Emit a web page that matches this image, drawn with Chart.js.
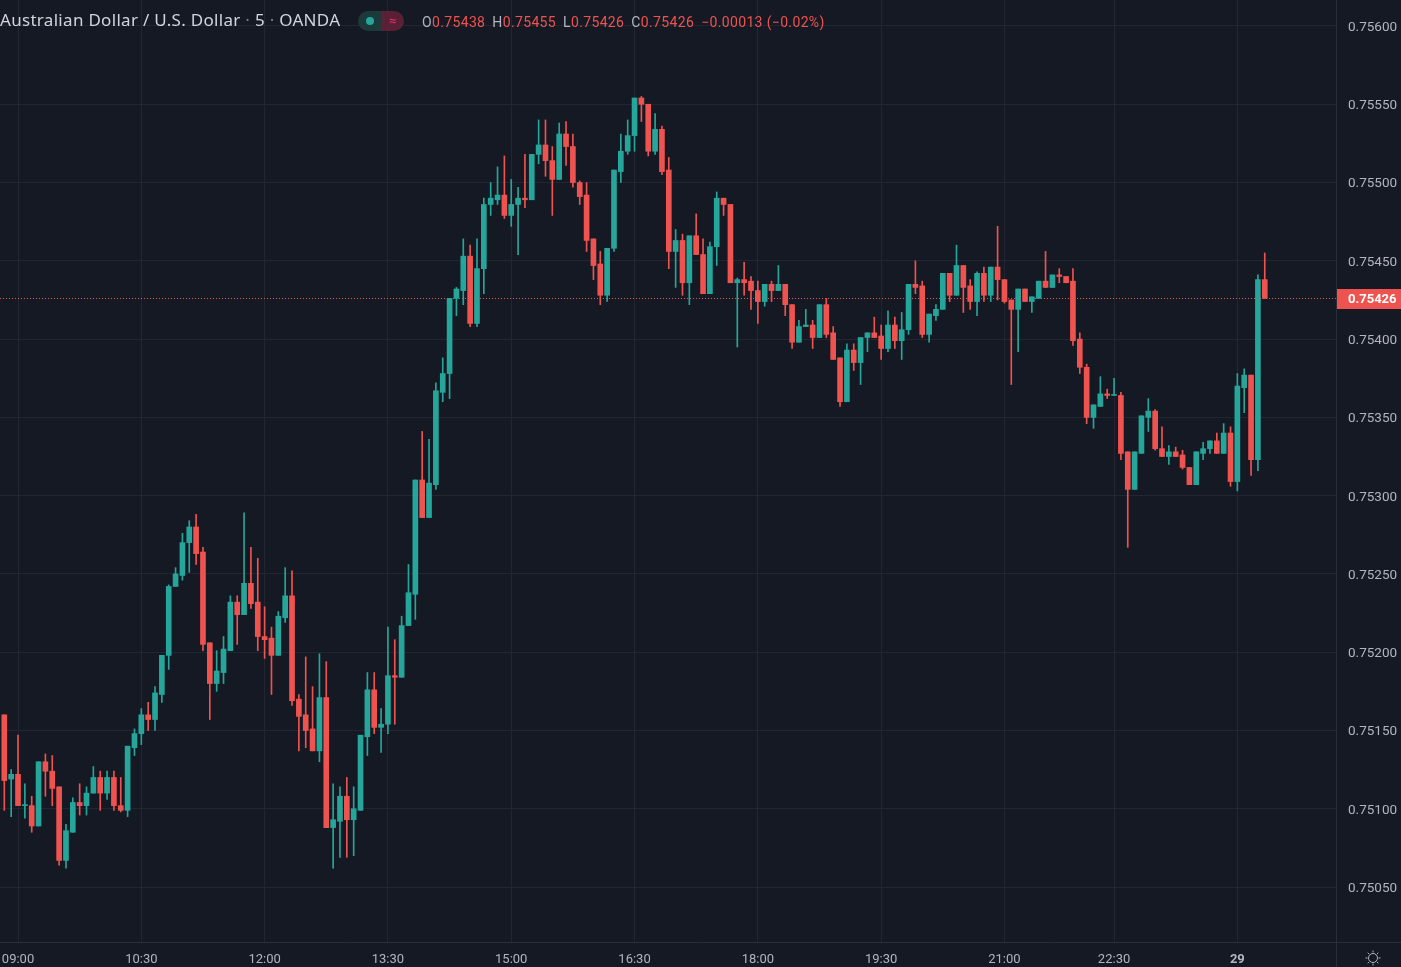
<!DOCTYPE html>
<html>
<head>
<meta charset="utf-8">
<title>AUD/USD 5</title>
<script src="https://cdn.jsdelivr.net/npm/chart.js@4.4.0/dist/chart.umd.min.js"></script>
<style>
  html, body { margin: 0; padding: 0; background: #151924; overflow: hidden; }
  #wrap { position: relative; width: 1401px; height: 967px; }
  #header { position: absolute; left: 0; top: 11px; height: 22px; white-space: nowrap; }
  #title { position: absolute; left: 0; top: -1px; font-family: 'Noto Sans', sans-serif; font-size: 17px; line-height: 20px; letter-spacing: 0.3px; color: #d1d4dc; }
  #title .sep { color: #787b86; }
  #pill { position: absolute; left: 358px; top: 0; width: 46px; height: 20px; border-radius: 10px; overflow: hidden; }
  #pill .l { position: absolute; left: 0; top: 0; width: 23px; height: 20px; background: #1c3a3a; }
  #pill .l i { position: absolute; left: 8px; top: 6px; width: 8px; height: 8px; border-radius: 4px; background: #26a69a; }
  #pill .r { position: absolute; left: 23px; top: 0; width: 23px; height: 20px; background: #5a2036; color: #e0306a; font-family: Roboto, sans-serif; font-size: 13px; line-height: 20px; text-align: center; }
  #ohlc { position: absolute; left: 422px; top: 2px; font-family: Roboto, sans-serif; font-size: 14px; line-height: 18px; letter-spacing: 0.35px; color: #b2b5be; }
  #ohlc b { font-weight: normal; color: #ef5350; margin-right: 7px; }
</style>
</head>
<body>
<div id="wrap">
  <canvas id="candles"></canvas>
  <div id="header">
    <div id="title">Australian Dollar / U.S. Dollar <span class="sep">·</span> 5 <span class="sep">·</span> OANDA</div>
    <div id="pill"><div class="l"><i></i></div><div class="r">≈</div></div>
    <div id="ohlc">O<b>0.75438</b>H<b>0.75455</b>L<b>0.75426</b>C<b>0.75426</b><b>−0.00013 (−0.02%)</b></div>
  </div>
</div>
<script>
// 5 minute candles, AUD/USD (OANDA), one entry per bar from 08:50
const opens = [
  0.75160,0.75119,0.75122,0.75102,0.75102,0.75089,0.75130,0.75124,0.75114,0.75067,
  0.75085,0.75104,0.75102,0.75110,0.75120,0.75110,0.75120,0.75102,0.75099,0.75139,
  0.75148,0.75160,0.75157,0.75173,0.75198,0.75242,0.75249,0.75270,0.75280,0.75264,
  0.75206,0.75180,0.75187,0.75201,0.75232,0.75224,0.75244,0.75232,0.75210,0.75209,
  0.75198,0.75222,0.75236,0.75170,0.75160,0.75151,0.75137,0.75171,0.75088,0.75092,
  0.75108,0.75093,0.75099,0.75146,0.75176,0.75152,0.75154,0.75185,0.75184,0.75217,
  0.75237,0.75310,0.75286,0.75307,0.75366,0.75378,0.75426,0.75431,0.75453,0.75410,
  0.75445,0.75486,0.75489,0.75492,0.75479,0.75486,0.75490,0.75489,0.75518,0.75524,
  0.75514,0.75502,0.75531,0.75523,0.75500,0.75492,0.75464,0.75448,0.75428,0.75458,
  0.75507,0.75520,0.75530,0.75554,0.75550,0.75520,0.75534,0.75508,0.75456,0.75463,
  0.75436,0.75466,0.75454,0.75429,0.75459,0.75490,0.75486,0.75436,0.75438,0.75437,
  0.75431,0.75424,0.75435,0.75431,0.75435,0.75422,0.75398,0.75408,0.75409,0.75401,
  0.75422,0.75404,0.75388,0.75360,0.75393,0.75385,0.75401,0.75404,0.75402,0.75394,
  0.75409,0.75399,0.75406,0.75435,0.75434,0.75403,0.75415,0.75419,0.75442,0.75428,
  0.75447,0.75434,0.75424,0.75442,0.75428,0.75446,0.75438,0.75425,0.75419,0.75432,
  0.75424,0.75426,0.75437,0.75433,0.75441,0.75440,0.75437,0.75400,0.75382,0.75350,
  0.75357,0.75365,0.75364,0.75364,0.75328,0.75304,0.75327,0.75350,0.75354,0.75330,
  0.75325,0.75328,0.75326,0.75318,0.75307,0.75327,0.75330,0.75335,0.75327,0.75340,
  0.75309,0.75369,0.75377,0.75323,0.75438
];
const highs = [
  0.75160,0.75125,0.75147,0.75116,0.75108,0.75130,0.75135,0.75134,0.75114,0.75090,
  0.75107,0.75116,0.75114,0.75127,0.75124,0.75124,0.75124,0.75120,0.75140,0.75151,
  0.75164,0.75168,0.75178,0.75198,0.75243,0.75254,0.75276,0.75284,0.75288,0.75267,
  0.75206,0.75201,0.75210,0.75236,0.75236,0.75289,0.75267,0.75260,0.75229,0.75216,
  0.75226,0.75254,0.75252,0.75173,0.75197,0.75178,0.75199,0.75194,0.75116,0.75114,
  0.75120,0.75114,0.75147,0.75187,0.75187,0.75164,0.75216,0.75208,0.75223,0.75256,
  0.75310,0.75341,0.75336,0.75372,0.75388,0.75426,0.75433,0.75464,0.75460,0.75464,
  0.75490,0.75500,0.75510,0.75517,0.75502,0.75497,0.75518,0.75518,0.75540,0.75540,
  0.75523,0.75538,0.75539,0.75531,0.75501,0.75500,0.75464,0.75456,0.75458,0.75508,
  0.75531,0.75540,0.75554,0.75555,0.75550,0.75544,0.75536,0.75516,0.75470,0.75467,
  0.75466,0.75480,0.75464,0.75462,0.75494,0.75490,0.75486,0.75439,0.75449,0.75440,
  0.75437,0.75435,0.75437,0.75447,0.75435,0.75422,0.75412,0.75419,0.75412,0.75422,
  0.75426,0.75408,0.75388,0.75397,0.75397,0.75401,0.75404,0.75414,0.75409,0.75418,
  0.75414,0.75417,0.75435,0.75450,0.75437,0.75416,0.75422,0.75442,0.75442,0.75460,
  0.75447,0.75438,0.75443,0.75446,0.75446,0.75472,0.75438,0.75425,0.75432,0.75432,
  0.75427,0.75437,0.75456,0.75441,0.75445,0.75440,0.75445,0.75404,0.75384,0.75358,
  0.75376,0.75368,0.75375,0.75366,0.75328,0.75328,0.75351,0.75362,0.75355,0.75344,
  0.75332,0.75331,0.75329,0.75318,0.75328,0.75334,0.75335,0.75340,0.75346,0.75344,
  0.75378,0.75381,0.75377,0.75441,0.75455
];
const lows = [
  0.75099,0.75095,0.75102,0.75094,0.75085,0.75089,0.75108,0.75102,0.75064,0.75062,
  0.75085,0.75096,0.75096,0.75110,0.75099,0.75106,0.75099,0.75098,0.75095,0.75134,
  0.75141,0.75150,0.75150,0.75168,0.75189,0.75242,0.75246,0.75251,0.75256,0.75201,
  0.75157,0.75175,0.75180,0.75201,0.75205,0.75224,0.75228,0.75201,0.75196,0.75173,
  0.75198,0.75219,0.75166,0.75137,0.75139,0.75137,0.75130,0.75088,0.75062,0.75069,
  0.75069,0.75070,0.75099,0.75134,0.75148,0.75136,0.75148,0.75154,0.75184,0.75217,
  0.75221,0.75286,0.75286,0.75304,0.75360,0.75362,0.75415,0.75422,0.75408,0.75408,
  0.75429,0.75479,0.75486,0.75477,0.75472,0.75454,0.75484,0.75489,0.75512,0.75504,
  0.75479,0.75502,0.75511,0.75497,0.75486,0.75456,0.75438,0.75422,0.75424,0.75456,
  0.75500,0.75518,0.75520,0.75539,0.75517,0.75518,0.75505,0.75445,0.75433,0.75428,
  0.75422,0.75454,0.75429,0.75429,0.75447,0.75479,0.75436,0.75395,0.75428,0.75419,
  0.75410,0.75421,0.75424,0.75431,0.75415,0.75394,0.75398,0.75408,0.75394,0.75401,
  0.75401,0.75387,0.75357,0.75360,0.75380,0.75371,0.75392,0.75401,0.75387,0.75392,
  0.75394,0.75387,0.75403,0.75429,0.75401,0.75398,0.75412,0.75419,0.75424,0.75428,
  0.75417,0.75419,0.75415,0.75424,0.75424,0.75425,0.75423,0.75371,0.75392,0.75424,
  0.75417,0.75426,0.75433,0.75433,0.75436,0.75436,0.75396,0.75378,0.75346,0.75343,
  0.75357,0.75362,0.75364,0.75323,0.75267,0.75304,0.75327,0.75341,0.75329,0.75325,
  0.75320,0.75325,0.75317,0.75307,0.75307,0.75323,0.75327,0.75327,0.75327,0.75306,
  0.75303,0.75353,0.75313,0.75316,0.75426
];
const closes = [
  0.75118,0.75122,0.75102,0.75102,0.75089,0.75130,0.75124,0.75113,0.75067,0.75086,
  0.75104,0.75102,0.75110,0.75120,0.75110,0.75120,0.75102,0.75099,0.75140,0.75148,
  0.75160,0.75157,0.75174,0.75198,0.75242,0.75250,0.75270,0.75280,0.75263,0.75205,
  0.75180,0.75188,0.75202,0.75232,0.75224,0.75244,0.75231,0.75210,0.75208,0.75198,
  0.75223,0.75236,0.75169,0.75159,0.75150,0.75137,0.75171,0.75088,0.75093,0.75108,
  0.75093,0.75100,0.75147,0.75176,0.75152,0.75154,0.75185,0.75184,0.75217,0.75238,
  0.75310,0.75286,0.75308,0.75367,0.75378,0.75426,0.75432,0.75453,0.75410,0.75445,
  0.75486,0.75490,0.75492,0.75479,0.75486,0.75490,0.75489,0.75518,0.75524,0.75514,
  0.75502,0.75531,0.75523,0.75500,0.75491,0.75463,0.75447,0.75428,0.75458,0.75508,
  0.75520,0.75530,0.75554,0.75550,0.75520,0.75534,0.75507,0.75456,0.75463,0.75436,
  0.75466,0.75454,0.75429,0.75459,0.75490,0.75486,0.75436,0.75438,0.75436,0.75431,
  0.75424,0.75435,0.75431,0.75435,0.75422,0.75398,0.75408,0.75409,0.75401,0.75422,
  0.75403,0.75387,0.75360,0.75393,0.75385,0.75401,0.75404,0.75401,0.75394,0.75409,
  0.75399,0.75406,0.75435,0.75433,0.75403,0.75416,0.75419,0.75442,0.75428,0.75447,
  0.75433,0.75424,0.75442,0.75428,0.75446,0.75438,0.75424,0.75419,0.75432,0.75424,
  0.75427,0.75437,0.75433,0.75441,0.75440,0.75436,0.75399,0.75382,0.75350,0.75358,
  0.75365,0.75364,0.75364,0.75327,0.75304,0.75328,0.75351,0.75354,0.75330,0.75325,
  0.75328,0.75325,0.75318,0.75307,0.75328,0.75330,0.75335,0.75327,0.75340,0.75309,
  0.75370,0.75377,0.75323,0.75438,0.75426
];

// time axis: bar index -> label (a couple of bars are missing around the daily rollover)
const timeTickIndex = [2, 20, 38, 56, 74, 92, 110, 128, 146, 162, 180];
const timeTickLabels = ['09:00', '10:30', '12:00', '13:30', '15:00', '16:30', '18:00', '19:30', '21:00', '22:30', '29'];
const priceTicks = [0.7505, 0.7510, 0.7515, 0.7520, 0.7525, 0.7530, 0.7535, 0.7540, 0.7545, 0.7550, 0.7555, 0.7560];

const UP = '#26a69a';
const DOWN = '#ef5350';
const TEXT = '#b2b5be';
const GRID = '#222632';
const LINE = '#2a2e39';
const FONT = "'Trebuchet MS', Roboto, sans-serif";

const barIdx = opens.map((_, i) => i);
const candleColor = ctx => (closes[ctx.dataIndex] >= opens[ctx.dataIndex] ? UP : DOWN);

// dotted last-price line behind the candles, price tag + frame on top
const lastPricePlugin = {
  id: 'lastPrice',
  beforeDatasetsDraw(chart) {
    const { ctx, chartArea, scales } = chart;
    const py = Math.round(scales.y.getPixelForValue(closes[closes.length - 1])) + 0.5;
    ctx.save();
    ctx.strokeStyle = DOWN;
    ctx.lineWidth = 1;
    ctx.setLineDash([1, 2]);
    ctx.beginPath();
    ctx.moveTo(chartArea.left, py);
    ctx.lineTo(chartArea.right, py);
    ctx.stroke();
    ctx.restore();
  },
  afterDraw(chart) {
    const { ctx, chartArea, scales, width, height } = chart;
    const last = closes[closes.length - 1];
    const py = Math.round(scales.y.getPixelForValue(last));

    ctx.save();
    // pane separators
    ctx.strokeStyle = LINE;
    ctx.lineWidth = 1;
    ctx.beginPath();
    ctx.moveTo(chartArea.right + 0.5, 0);
    ctx.lineTo(chartArea.right + 0.5, height);
    ctx.moveTo(0, chartArea.bottom + 0.5);
    ctx.lineTo(width, chartArea.bottom + 0.5);
    ctx.stroke();

    // price tag
    ctx.fillStyle = DOWN;
    ctx.fillRect(chartArea.right + 1, py - 9, width - chartArea.right - 1, 20);
    ctx.fillStyle = '#ffffff';
    ctx.font = 'bold 13px ' + FONT;
    ctx.textBaseline = 'middle';
    ctx.textAlign = 'left';
    ctx.fillText(last.toFixed(5), chartArea.right + 12, py + 2);

    // settings icon in the corner
    const cx = 1373, cy = 958;
    ctx.strokeStyle = TEXT;
    ctx.beginPath();
    ctx.arc(cx, cy, 4.5, 0, Math.PI * 2);
    ctx.stroke();
    for (let k = 0; k < 8; k++) {
      const a = k * Math.PI / 4;
      ctx.beginPath();
      ctx.moveTo(cx + Math.cos(a) * 5.5, cy + Math.sin(a) * 5.5);
      ctx.lineTo(cx + Math.cos(a) * 7.5, cy + Math.sin(a) * 7.5);
      ctx.stroke();
    }
    ctx.restore();
  }
};

new Chart(document.getElementById('candles'), {
  type: 'bar',
  data: {
    datasets: [
      {
        label: 'wick',
        data: barIdx.map(i => ({ x: i, y: [lows[i], highs[i]] })),
        backgroundColor: candleColor,
        barThickness: 1,
        grouped: false,
        order: 2
      },
      {
        label: 'body',
        data: barIdx.map(i => ({ x: i, y: [opens[i], closes[i]] })),
        backgroundColor: candleColor,
        barThickness: 5,
        minBarLength: 1,
        grouped: false,
        order: 1
      }
    ]
  },
  options: {
    responsive: true,
    maintainAspectRatio: false,
    animation: false,
    layout: { padding: 0 },
    plugins: {
      legend: { display: false },
      tooltip: { enabled: false }
    },
    scales: {
      x: {
        type: 'linear',
        min: -0.63,
        max: 194.4,
        offset: false,
        afterBuildTicks: s => { s.ticks = timeTickIndex.map(v => ({ value: v })); },
        afterFit: s => { s.height = 25; s.paddingLeft = 0; s.paddingRight = 0; },
        ticks: {
          autoSkip: false,
          maxRotation: 0,
          padding: 10,
          color: TEXT,
          font: c => ({ family: FONT, size: 13, weight: (c.tick && c.tick.label === '29') ? 'bold' : 'normal' }),
          callback: v => timeTickLabels[timeTickIndex.indexOf(v)]
        },
        grid: { color: GRID, drawTicks: false, offset: false },
        border: { display: false }
      },
      y: {
        position: 'right',
        min: 0.750149,
        max: 0.756166,
        afterBuildTicks: s => { s.ticks = priceTicks.map(v => ({ value: v })); },
        afterFit: s => { s.width = 65; s.paddingTop = 0; s.paddingBottom = 0; },
        ticks: {
          padding: 12,
          labelOffset: 1.5,
          color: TEXT,
          font: { family: FONT, size: 13.5 },
          callback: v => v.toFixed(5)
        },
        grid: { color: GRID, drawTicks: false },
        border: { display: false }
      }
    }
  },
  plugins: [lastPricePlugin]
});
</script>
</body>
</html>
